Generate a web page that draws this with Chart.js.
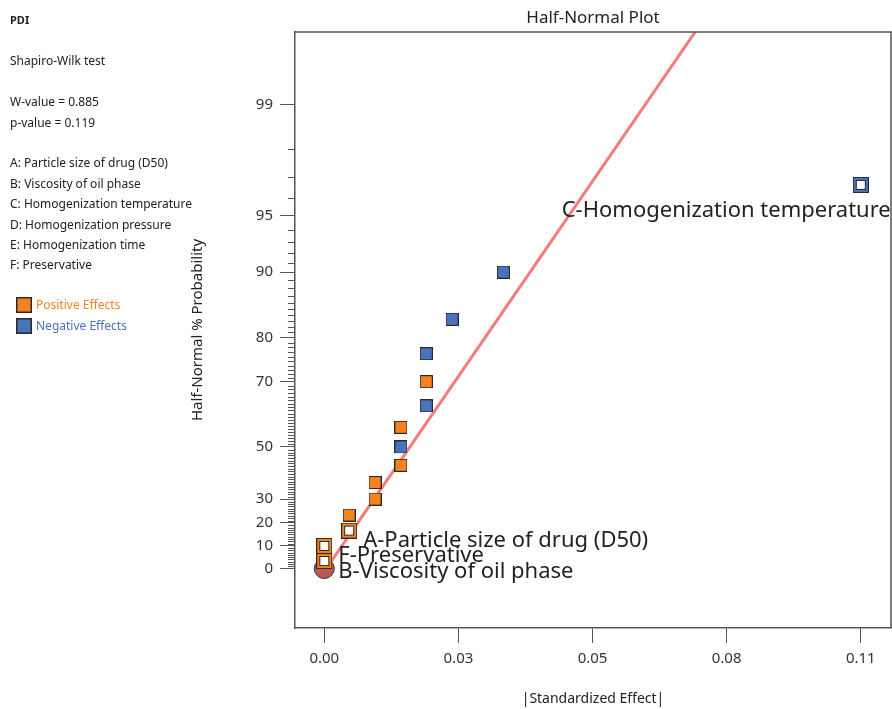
<!DOCTYPE html>
<html><head><meta charset="utf-8">
<script src="https://cdn.jsdelivr.net/npm/chart.js@4.4.0/dist/chart.umd.min.js"></script>
<style>html,body{margin:0;padding:0;background:#fff}canvas{display:block}</style>
</head><body>
<canvas id="c" width="892" height="709"></canvas>
<script>
// ---------------- data ----------------
const probPct    = [3.33, 10, 16.67, 23.33, 30, 36.67, 43.33, 50, 56.67, 63.33, 70, 76.67, 83.33, 90, 96.67];
const absEffect  = [0, 0, 0.0051, 0.0051, 0.0104, 0.0104, 0.0157, 0.0157, 0.0157, 0.0209, 0.0209, 0.0209, 0.0262, 0.0367, 0.1100];
const effectSign = ['+', '+', '+', '+', '+', '+', '+', '-', '+', '-', '+', '-', '-', '-', '-'];
const modelTerm  = [true, true, true, false, false, false, false, false, false, false, false, false, false, false, true];
const termLabel  = ['', 'F-Preservative', 'A-Particle size of drug (D50)', '', '', '', '', '', '', '', '', '', '', '', 'C-Homogenization temperature'];
const errorTermLabel = ['B-Viscosity of oil phase'];
const errorEffect = [0];
const errorProb   = [0];
const lineEffect = [0.0004, 0.0840];
const lineProb   = [0, 99.9];
const yMajorPct  = [0, 10, 20, 30, 50, 70, 80, 90, 95, 99];
const xTickVals  = [0, 0.0275, 0.055, 0.0825, 0.11];
const xTickLabels = ['0.00', '0.03', '0.05', '0.08', '0.11'];
const panelLines = ['Shapiro-Wilk test', '', 'W-value = 0.885', 'p-value = 0.119', '',
  'A: Particle size of drug (D50)', 'B: Viscosity of oil phase', 'C: Homogenization temperature',
  'D: Homogenization pressure', 'E: Homogenization time', 'F: Preservative'];
const responseName = 'PDI';
const legendItems = ['Positive Effects', 'Negative Effects'];

// ---------------- helpers ----------------
function invNorm(p) {
  const a=[-3.969683028665376e+01,2.209460984245205e+02,-2.759285104469687e+02,1.383577518672690e+02,-3.066479806614716e+01,2.506628277459239e+00];
  const b=[-5.447609879822406e+01,1.615858368580409e+02,-1.556989798598866e+02,6.680131188771972e+01,-1.328068155288572e+01];
  const c=[-7.784894002430293e-03,-3.223964580411365e-01,-2.400758277161838e+00,-2.549732539343734e+00,4.374664141464968e+00,2.938163982698783e+00];
  const d=[7.784695709041462e-03,3.224671290700398e-01,2.445134137142996e+00,3.754408661907416e+00];
  const pl=0.02425, ph=1-pl; let q,r;
  if (p<pl){q=Math.sqrt(-2*Math.log(p));return (((((c[0]*q+c[1])*q+c[2])*q+c[3])*q+c[4])*q+c[5])/((((d[0]*q+d[1])*q+d[2])*q+d[3])*q+1);}
  if (p<=ph){q=p-0.5;r=q*q;return (((((a[0]*r+a[1])*r+a[2])*r+a[3])*r+a[4])*r+a[5])*q/(((((b[0]*r+b[1])*r+b[2])*r+b[3])*r+b[4])*r+1);}
  q=Math.sqrt(-2*Math.log(1-p));return -(((((c[0]*q+c[1])*q+c[2])*q+c[3])*q+c[4])*q+c[5])/((((d[0]*q+d[1])*q+d[2])*q+d[3])*q+1);
}
const hnz = pct => pct <= 0 ? 0 : invNorm(0.5 + pct / 200);   // half-normal quantile

// ---------------- style ----------------
const FONT = '"Noto Sans", "Open Sans", sans-serif';
const ORANGE = '#F5821F', BLUE = '#4A73BE', DARK = '#2a2a2a', AXIS = '#555555';
const labelStyle = {
  'F-Preservative': {dx: 14, dy: 10, align: 'left'},
  'A-Particle size of drug (D50)': {dx: 14, dy: 10, align: 'left'},
  'C-Homogenization temperature': {dx: 30, dy: 26, align: 'right'},
  'B-Viscosity of oil phase': {dx: 14, dy: 3, align: 'left'}
};
function marker(fill, hollow) {
  const c = document.createElement('canvas');
  const g = c.getContext('2d');
  if (hollow) {
    c.width = c.height = 16;
    g.fillStyle = DARK; g.fillRect(0,0,16,16);
    g.fillStyle = fill; g.fillRect(1,1,14,14);
    g.fillStyle = DARK; g.fillRect(3,3,10,10);
    g.fillStyle = '#fff'; g.fillRect(4,4,8,8);
  } else {
    c.width = c.height = 13;
    g.fillStyle = DARK; g.fillRect(0,0,13,13);
    g.fillStyle = fill; g.fillRect(1,1,11,11);
  }
  return c;
}
const mk = {pos: marker(ORANGE,false), neg: marker(BLUE,false), posH: marker(ORANGE,true), negH: marker(BLUE,true)};

function pts(filterFn) {
  const out = [];
  probPct.forEach((p, i) => { if (filterFn(i)) out.push({x: absEffect[i], y: hnz(p), label: termLabel[i]}); });
  return out;
}

// ---------------- decoration plugin ----------------
const decor = {
  id: 'decor',
  afterDatasetsDraw(chart) {
    const ctx = chart.ctx, xs = chart.scales.x, ys = chart.scales.y;
    ctx.save();
    ctx.fillStyle = '#222';
    ctx.textBaseline = 'middle';
    ctx.font = '22px ' + FONT;
    chart.data.datasets.forEach(ds => {
      if (!ds.labelled) return;
      ds.data.forEach(pt => {
        if (!pt.label) return;
        const st = labelStyle[pt.label];
        ctx.textAlign = st.align;
        ctx.fillText(pt.label, xs.getPixelForValue(pt.x) + st.dx, ys.getPixelForValue(pt.y) + st.dy);
      });
    });
    ctx.restore();
  },
  afterDraw(chart) {
    const ctx = chart.ctx, a = chart.chartArea, ys = chart.scales.y;
    ctx.save();
    // frame top/right
    ctx.strokeStyle = AXIS; ctx.lineWidth = 1.5;
    ctx.beginPath(); ctx.moveTo(a.left, a.top); ctx.lineTo(a.right, a.top); ctx.lineTo(a.right, a.bottom); ctx.stroke();
    // minor y ticks
    ctx.lineWidth = 1;
    ctx.beginPath();
    for (let p = 1; p <= 98; p++) {
      if (yMajorPct.includes(p)) continue;
      const y = Math.round(ys.getPixelForValue(hnz(p))) + 0.5;
      ctx.moveTo(a.left - 7, y); ctx.lineTo(a.left, y);
    }
    ctx.stroke();
    // title
    ctx.fillStyle = '#222';
    ctx.textAlign = 'center'; ctx.textBaseline = 'middle';
    ctx.font = '17px ' + FONT;
    ctx.fillText('Half-Normal Plot', (a.left + a.right) / 2, 18);
    // axis titles
    ctx.font = '14px ' + FONT;
    ctx.fillText('|Standardized Effect|', (a.left + a.right) / 2, 699);
    ctx.save();
    ctx.translate(198, (a.top + a.bottom) / 2);
    ctx.rotate(-Math.PI / 2);
    ctx.font = '15px ' + FONT;
    ctx.fillText('Half-Normal % Probability', 0, 0);
    ctx.restore();
    // left panel
    ctx.textAlign = 'left';
    ctx.font = 'bold 11px ' + FONT;
    ctx.fillText(responseName, 10, 21);
    ctx.font = '12px ' + FONT;
    panelLines.forEach((t, i) => { if (t) ctx.fillText(t, 10, 62 + i * 20.4); });
    // legend
    const lc = [ORANGE, BLUE];
    legendItems.forEach((t, i) => {
      const y = 305 + i * 21;
      ctx.fillStyle = DARK; ctx.fillRect(16, y - 8, 16, 16);
      ctx.fillStyle = lc[i]; ctx.fillRect(17.5, y - 6.5, 13, 13);
      ctx.fillStyle = lc[i];
      ctx.fillText(t, 36, y + 1);
    });
    ctx.restore();
  }
};

// ---------------- chart ----------------
new Chart(document.getElementById('c'), {
  type: 'scatter',
  data: {
    datasets: [
      {label: 'error', data: errorEffect.map((x, i) => ({x, y: hnz(errorProb[i]), label: errorTermLabel[i]})),
       pointStyle: 'circle', pointRadius: 10, backgroundColor: '#B85A58', borderColor: '#3a2a2a', borderWidth: 1, labelled: true, order: 5},
      {label: 'pos', data: pts(i => effectSign[i] === '+' && !modelTerm[i]), pointStyle: mk.pos, order: 1},
      {label: 'neg', data: pts(i => effectSign[i] === '-' && !modelTerm[i]), pointStyle: mk.neg, order: 1},
      {label: 'posModel', data: pts(i => effectSign[i] === '+' && modelTerm[i]), pointStyle: mk.posH, labelled: true, order: 0},
      {label: 'negModel', data: pts(i => effectSign[i] === '-' && modelTerm[i]), pointStyle: mk.negH, labelled: true, order: 0},
      {label: 'fit', data: lineEffect.map((x, i) => ({x, y: hnz(lineProb[i])})), showLine: true, pointRadius: 0,
       borderColor: '#F47C7C', borderWidth: 3, order: 10, clip: 0}
    ]
  },
  options: {
    responsive: false, animation: false, devicePixelRatio: 1,
    layout: {autoPadding: false, padding: {top: 32, right: 1, left: 0, bottom: 0}},
    plugins: {legend: {display: false}, tooltip: {enabled: false}, title: {display: false}},
    scales: {
      x: {
        type: 'linear', min: -0.00601, max: 0.1162,
        afterFit: s => { s.height = 81; s.paddingLeft = 0; s.paddingRight = 0; },
        afterBuildTicks: s => { s.ticks = xTickVals.map(v => ({value: v})); },
        ticks: {autoSkip: false, maxRotation: 0, padding: 7, color: '#333', font: {family: FONT, size: 15},
          callback: (v, i) => xTickLabels[i]},
        grid: {drawOnChartArea: false, tickLength: 15, color: AXIS, tickColor: AXIS},
        border: {display: true, color: AXIS, width: 1.5}
      },
      y: {
        type: 'linear', min: -0.330, max: 2.977,
        afterFit: s => { s.width = 295; s.paddingTop = 0; s.paddingBottom = 0; },
        afterBuildTicks: s => { s.ticks = yMajorPct.map(p => ({value: hnz(p)})); },
        ticks: {autoSkip: false, padding: 7, color: '#333', font: {family: FONT, size: 15},
          callback: (v, i) => String(yMajorPct[i])},
        grid: {drawOnChartArea: false, tickLength: 15, color: AXIS, tickColor: AXIS},
        border: {display: true, color: AXIS, width: 1.5}
      }
    }
  },
  plugins: [decor]
});
</script>
</body></html>
